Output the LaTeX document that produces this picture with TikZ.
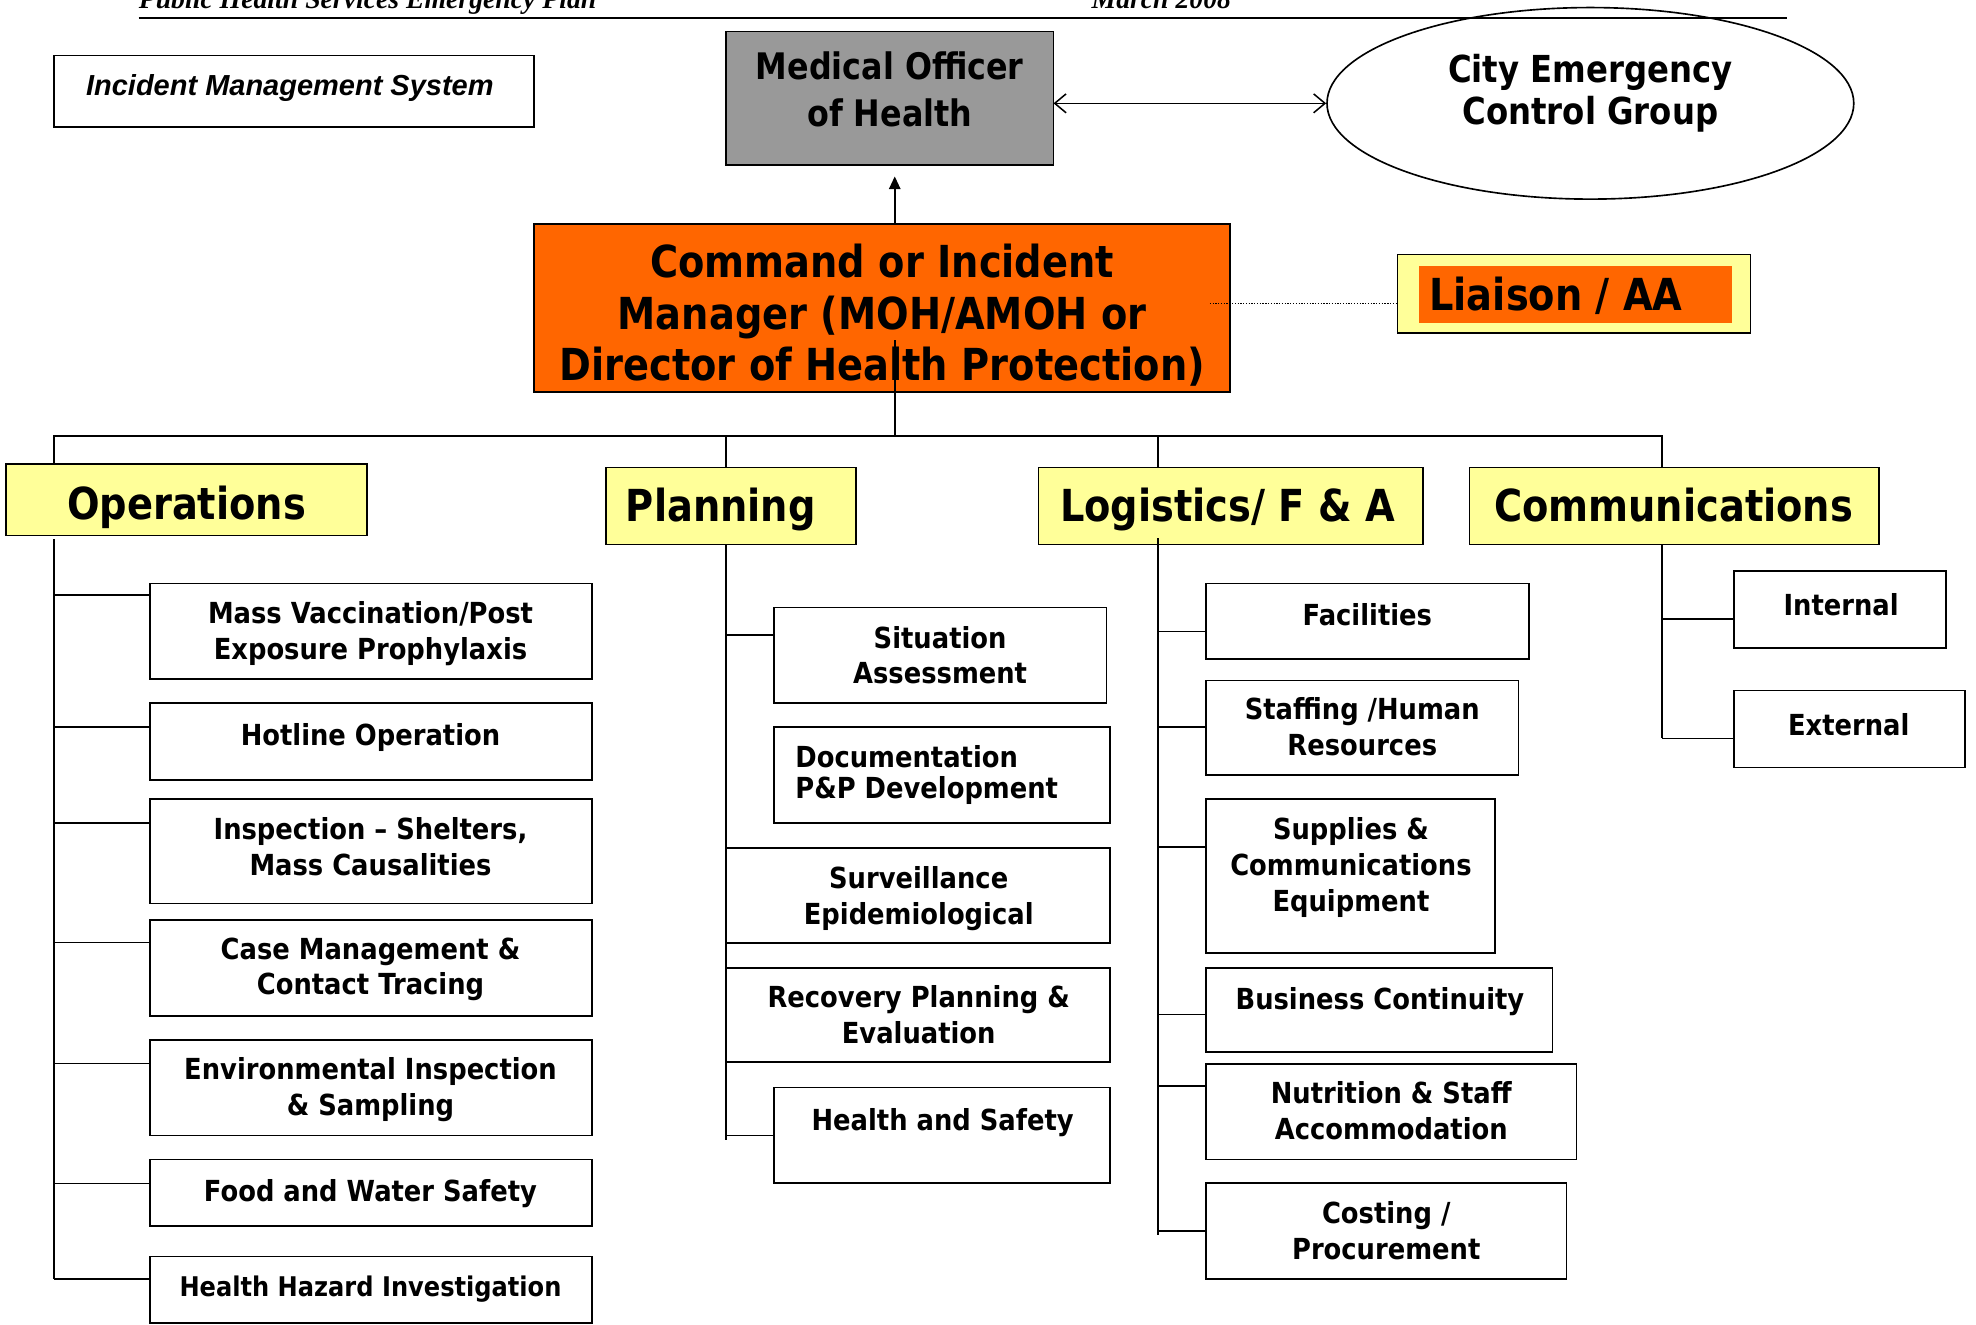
\documentclass[tikz,border=0pt]{standalone}
\usepackage{fontspec}
\usetikzlibrary{shapes.geometric,arrows.meta,calc}
\newfontfamily\tah[FakeStretch=0.87]{DejaVu Sans}
\newfontfamily\tahs[FakeStretch=0.89]{DejaVu Sans}
\newfontfamily\lsans{Liberation Sans}
\newfontfamily\lserif{Liberation Serif}
\definecolor{ylw}{HTML}{FFFF99}
\definecolor{org}{HTML}{FF6600}
\definecolor{gry}{HTML}{999999}
\newcommand\tbf[2]{\tah\bfseries\fontsize{#1}{#2}\selectfont}
\newcommand\tsf[2]{\tahs\bfseries\fontsize{#1}{#2}\selectfont}
\newcommand\bx[6][box]{\node[#1,anchor=north west,minimum width={#4-#2},minimum height={#5-#3}] (#6) at (#2,#3) {};}
\begin{document}
\begin{tikzpicture}[x=1pt,y=-1pt,
  box/.style={draw,line width=1.4pt,fill=white,inner sep=0pt,outer sep=0pt},
  hd/.style={box,fill=ylw},
  conn/.style={line width=1.3pt},
  tx/.style={inner sep=0pt,align=center,font=\tsf{23}{28.5},yshift=-4pt,execute at begin node=\strut,execute at end node=\strut},
  big/.style={tx,font=\tbf{35}{41},yshift=-1pt}]
\useasboundingbox (0,0) rectangle (1568,1051);
\clip (0,0) rectangle (1568,1051);
\fill[white] (0,0) rectangle (1568,1051);
% header
\node[anchor=base west,inner sep=0pt,font=\lserif\bfseries\itshape\fontsize{22}{26}\selectfont] (hdrL) at (110,7) {Public Health Services Emergency Plan};
\node[anchor=base west,inner sep=0pt,font=\lserif\bfseries\itshape\fontsize{22}{26}\selectfont] (hdrR) at (866,7) {March 2008};
\draw[line width=1.5pt] (110,14) -- (1418,14);
% IMS
\bx{43}{44}{424}{101}{ims}
\node[inner sep=0pt,font=\lsans\bfseries\itshape\fontsize{23}{28}\selectfont] (imsT) at (230,70) {Incident Management System};
% MOH
\bx[box,fill=gry]{576}{25}{836}{131}{moh}
\node[tx,font=\tbf{29}{37},yshift=-2pt] (mohT) at (706,70.5) {Medical Officer\\of Health};
% City Emergency Control Group
\node[draw,ellipse,line width=1.3pt,minimum width=418,minimum height=152,inner sep=0pt] (ceg) at (1262,82) {};
\node[tx,font=\tbf{29.5}{34}] (cegT) at (1262,72) {City Emergency\\Control Group};
\draw[line width=1.2pt,{Straight Barb[length=9pt,width=15pt]}-{Straight Barb[length=9pt,width=15pt]}] (moh.east |- ceg.center) -- (ceg.west);
% Command
\bx[box,fill=org]{424}{178}{976}{311}{cmd}
\node[big] (cmdT) at (700,249) {Command or Incident\\Manager (MOH/AMOH or\\Director of Health Protection)};
\draw[conn,-{Triangle[length=10pt,width=9pt]},shorten >=9pt] (cmd.north -| 710,0) -- (moh.south -| 710,0);
% Liaison
\bx[box,fill=ylw]{1109}{202}{1389}{264}{lia}
\bx[fill=org,inner sep=0pt,outer sep=0pt]{1126}{211}{1374}{256}{liaIn}
\node[big,anchor=west] (liaT) at (1134,233) {Liaison / AA};
\coordinate (dotS) at (960,241);
\draw[line width=0.9pt,dash pattern=on 1pt off 1.2pt] (dotS) -- (lia.west |- dotS);
% bus
\coordinate (busC) at (710,346);
\coordinate (ox) at (43,0);
\coordinate (px) at (576,0);
\coordinate (lx) at (919,0);
\coordinate (cx) at (1319,0);
\bx[hd]{5}{368}{291}{425}{ops}
\bx[hd]{481}{371}{679}{432}{pln}
\bx[hd]{824}{371}{1129}{432}{log}
\bx[hd]{1166}{371}{1491}{432}{com}
\draw[conn] (busC) -- ++(0,-76);
\draw[conn] (ox |- ops.north) -- (ox |- busC) -- (cx |- busC) -- (cx |- com.north);
\draw[conn] (px |- busC) -- (px |- pln.north);
\draw[conn] (lx |- busC) -- (lx |- log.north);
\node[big] (opsT) at (148,399) {Operations};
\node[big] (plnT) at (572,401) {Planning};
\node[big] (logT) at (974,401) {Logistics/ F \& A};
\node[big] (comT) at (1328,401) {Communications};
% Operations children
\bx{119}{463}{470}{539}{o1}
\bx{119}{558}{470}{619}{o2}
\bx{119}{634}{470}{717}{o3}
\bx{119}{730}{470}{806}{o4}
\bx{119}{825}{470}{901}{o5}
\bx{119}{920}{470}{973}{o6}
\bx{119}{997}{470}{1050}{o7}
\draw[conn] (ox |- 0,428) -- (ox |- 0,1015);
\foreach \n/\y in {o1/472,o2/577,o3/653,o4/748,o5/844,o6/939,o7/1015}
  \draw[conn] (ox |- 0,\y) -- (\n.west |- 0,\y);
\node[tx] (o1T) at (294,500.5) {Mass Vaccination/Post\\Exposure Prophylaxis};
\node[tx] (o2T) at (294,582) {Hotline Operation};
\node[tx] (o3T) at (294,672) {Inspection – Shelters,\\Mass Causalities};
\node[tx] (o4T) at (294,767) {Case Management \&\\Contact Tracing};
\node[tx] (o5T) at (294,862.5) {Environmental Inspection\\\& Sampling};
\node[tx] (o6T) at (294,944) {Food and Water Safety};
\node[tx,font=\tsf{21.5}{28.5}] (o7T) at (294,1019) {Health Hazard Investigation};
% Planning children
\bx{614}{482}{878}{558}{p1}
\bx{614}{577}{881}{653}{p2}
\bx{576}{673}{881}{748}{p3}
\bx{576}{768}{881}{843}{p4}
\bx{614}{863}{881}{939}{p5}
\draw[conn] (px |- 0,432) -- (px |- 0,905);
\foreach \n/\y in {p1/504,p5/901}
  \draw[conn] (px |- 0,\y) -- (\n.west |- 0,\y);
\node[tx] (p1T) at (746,520) {Situation\\Assessment};
\node[tx,align=left,anchor=west,font=\tsf{23}{25}] (p2T) at (631,612.5) {Documentation\\P\&P Development};
\node[tx] (p3T) at (729,710.5) {Surveillance\\Epidemiological};
\node[tx] (p4T) at (729,805.5) {Recovery Planning \&\\Evaluation};
\node[tx] (p5T) at (748,887) {Health and Safety};
% Logistics children
\bx{957}{463}{1213}{523}{l1}
\bx{957}{540}{1205}{615}{l2}
\bx{957}{634}{1186}{756}{l3}
\bx{957}{768}{1232}{835}{l4}
\bx{957}{844}{1251}{920}{l5}
\bx{957}{939}{1243}{1015}{l6}
\draw[conn] (lx |- 0,427) -- (lx |- 0,980);
\foreach \n/\y in {l1/501,l2/577,l3/672,l4/805,l5/862,l6/977}
  \draw[conn] (lx |- 0,\y) -- (\n.west |- 0,\y);
\node[tx] (l1T) at (1085,487) {Facilities};
\node[tx] (l2T) at (1081,577) {Staffing /Human\\Resources};
\node[tx] (l3T) at (1072,686) {Supplies \&\\Communications\\Equipment};
\node[tx] (l4T) at (1095,791) {Business Continuity};
\node[tx] (l5T) at (1104,881.5) {Nutrition \& Staff\\Accommodation};
\node[tx] (l6T) at (1100,977) {Costing /\\Procurement};
% Communications children
\bx{1376}{453}{1544}{514}{c1}
\bx{1376}{548}{1559}{609}{c2}
\draw[conn] (cx |- 0,432) -- (cx |- 0,586);
\foreach \n/\y in {c1/491,c2/586}
  \draw[conn] (cx |- 0,\y) -- (\n.west |- 0,\y);
\node[tx] (c1T) at (1461,479) {Internal};
\node[tx] (c2T) at (1467,574) {External};
\end{tikzpicture}
\end{document}
